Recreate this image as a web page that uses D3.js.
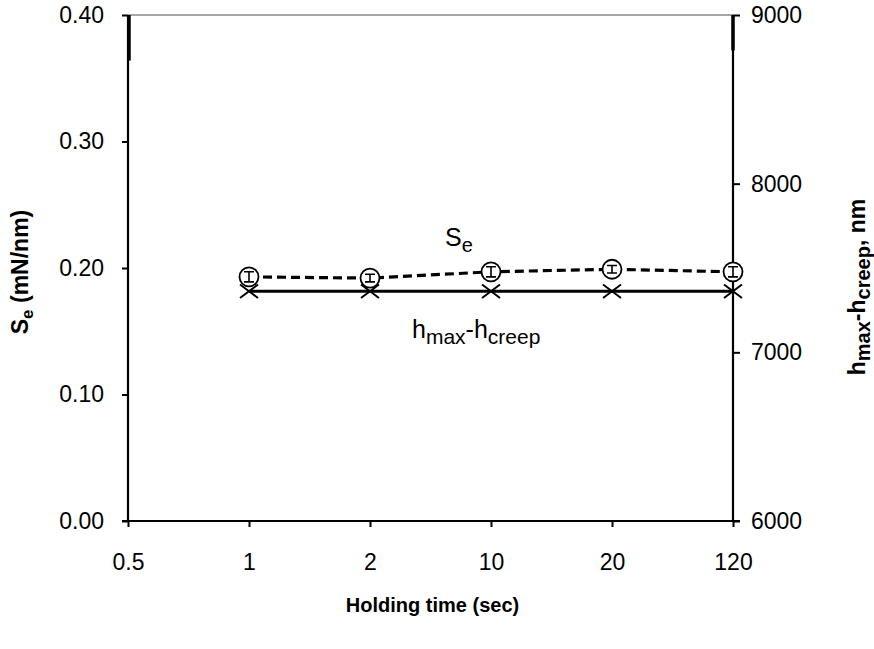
<!DOCTYPE html>
<html>
<head>
<meta charset="utf-8">
<script src="https://cdn.jsdelivr.net/npm/d3@7/dist/d3.min.js"></script>
<style>
  html, body { margin: 0; padding: 0; background: #fff; }
  svg { display: block; font-family: "Liberation Sans", Arial, sans-serif; }
</style>
</head>
<body>
<svg id="chart" width="874" height="649"></svg>
<script>
// Holding time categories (evenly spaced on the x axis)
const categories = ["0.5", "1", "2", "10", "20", "120"];
// Elastic stiffness S_e (mN/nm) with error bars, per holding time
const seTimes = ["1", "2", "10", "20", "120"];
const seValues = [0.193, 0.192, 0.197, 0.199, 0.197];
const seErrors = [0.004, 0.003, 0.004, 0.003, 0.004];
// Depth h_max - h_creep (nm), per holding time
const hValues = [7362, 7362, 7362, 7362, 7362];
// Axis ticks
const leftTicks = [0, 0.1, 0.2, 0.3, 0.4];
const rightTicks = [6000, 7000, 8000, 9000];
// Steep segments at the plot edges (series leaving the top of the range)
const leftEdge = [0.4, 0.364];
const rightEdge = [9000, 8790];

const svg = d3.select("#chart");
const m = { left: 128, right: 733, top: 15, bottom: 521 };

const x = d3.scalePoint().domain(categories).range([m.left, m.right]).padding(0);
const yL = d3.scaleLinear().domain([0, 0.4]).range([m.bottom, m.top]);
const yR = d3.scaleLinear().domain([6000, 9000]).range([m.bottom, m.top]);

// Plot area top border
svg.append("line")
  .attr("x1", m.left).attr("x2", m.right)
  .attr("y1", m.top).attr("y2", m.top)
  .attr("stroke", "#888").attr("stroke-width", 1.5);

// Left axis
const gL = svg.append("g").attr("transform", `translate(${m.left},0)`)
  .call(d3.axisLeft(yL).tickValues(leftTicks).tickFormat(d3.format(".2f")).tickSize(6).tickPadding(18));
// Right axis
const gR = svg.append("g").attr("transform", `translate(${m.right},0)`)
  .call(d3.axisRight(yR).tickValues(rightTicks).tickFormat(d3.format("d")).tickSize(7).tickPadding(11));
// Bottom axis
const gB = svg.append("g").attr("transform", `translate(0,${m.bottom})`)
  .call(d3.axisBottom(x).tickSize(6).tickPadding(27));

[gL, gR, gB].forEach(g => {
  g.select(".domain").attr("stroke", "#000").attr("stroke-width", 2.2);
  g.selectAll(".tick line").attr("stroke", "#000").attr("stroke-width", 2);
  g.selectAll(".tick text").attr("fill", "#000").style("font-size", "23px");
});
gL.select(".domain").attr("d", `M0,${m.top}V${m.bottom}`);
gR.select(".domain").attr("d", `M0,${m.top}V${m.bottom}`);
gB.select(".domain").attr("d", `M${m.left - 6},0H${m.right + 7}`);
gB.selectAll(".tick text").attr("dy", "0.71em");

// Edge segments
svg.append("line")
  .attr("x1", x("0.5") + 1).attr("x2", x("0.5") + 1)
  .attr("y1", yL(leftEdge[0])).attr("y2", yL(leftEdge[1]))
  .attr("stroke", "#000").attr("stroke-width", 3.5);
svg.append("line")
  .attr("x1", x("120")).attr("x2", x("120"))
  .attr("y1", yR(rightEdge[0])).attr("y2", yR(rightEdge[1]))
  .attr("stroke", "#000").attr("stroke-width", 3.5);

// h_max - h_creep series (solid line, X markers)
const hLine = d3.line().x((d, i) => x(seTimes[i])).y(d => yR(d));
svg.append("path").datum(hValues)
  .attr("d", hLine).attr("fill", "none")
  .attr("stroke", "#000").attr("stroke-width", 3);
const xs = 9;
svg.append("g").selectAll("path").data(hValues).join("path")
  .attr("d", (d, i) => {
    const cx = x(seTimes[i]), cy = yR(d);
    return `M${cx - xs},${cy - xs * 0.75}L${cx + xs},${cy + xs * 0.75}M${cx + xs},${cy - xs * 0.75}L${cx - xs},${cy + xs * 0.75}`;
  })
  .attr("stroke", "#000").attr("stroke-width", 2).attr("fill", "none");

// S_e series (dashed line, open circles with error bars)
const seLine = d3.line().x((d, i) => x(seTimes[i])).y(d => yL(d));
svg.append("path").datum(seValues)
  .attr("d", seLine).attr("fill", "none")
  .attr("stroke", "#000").attr("stroke-width", 3.2)
  .attr("stroke-dasharray", "9,5");
const seG = svg.append("g").selectAll("g").data(seValues).join("g")
  .attr("transform", (d, i) => `translate(${x(seTimes[i])},${yL(d)})`);
seG.append("circle").attr("r", 9.5)
  .attr("fill", "#fff").attr("stroke", "#000").attr("stroke-width", 1.8);
seG.append("path")
  .attr("d", (d, i) => {
    const e = yL(d) - yL(d + seErrors[i]);
    return `M0,${-e}V${e}M-5,${-e}H5M-5,${e}H5`;
  })
  .attr("stroke", "#000").attr("stroke-width", 1.6).attr("fill", "none");

// Series labels
const se = svg.append("text").attr("x", 445).attr("y", 246)
  .style("font-size", "25px").attr("fill", "#000");
se.append("tspan").text("S");
se.append("tspan").attr("dy", 6).style("font-size", "20px").text("e");

const hl = svg.append("text").attr("x", 412).attr("y", 338)
  .style("font-size", "25px").attr("fill", "#000");
hl.append("tspan").text("h");
hl.append("tspan").attr("dy", 6).style("font-size", "21px").text("max");
hl.append("tspan").attr("dy", -6).text("-h");
hl.append("tspan").attr("dy", 6).style("font-size", "21px").text("creep");

// Axis titles
svg.append("text").attr("x", (m.left + m.right) / 2 + 2).attr("y", 612)
  .attr("text-anchor", "middle").style("font-size", "20px").style("font-weight", "bold")
  .text("Holding time (sec)");

const lt = svg.append("text")
  .attr("transform", `translate(28,272) rotate(-90)`)
  .attr("text-anchor", "middle").style("font-size", "23px").style("font-weight", "bold");
lt.append("tspan").text("S");
lt.append("tspan").attr("dy", 5).style("font-size", "17px").text("e");
lt.append("tspan").attr("dy", -5).text(" (mN/nm)");

const rt = svg.append("text")
  .attr("transform", `translate(865,287) rotate(-90)`)
  .attr("text-anchor", "middle").style("font-size", "23px").style("font-weight", "bold");
rt.append("tspan").text("h");
rt.append("tspan").attr("dy", 5).style("font-size", "20px").text("max");
rt.append("tspan").attr("dy", -5).text("-h");
rt.append("tspan").attr("dy", 5).style("font-size", "20px").text("creep");
rt.append("tspan").attr("dy", -5).text(", nm");
</script>
</body>
</html>
